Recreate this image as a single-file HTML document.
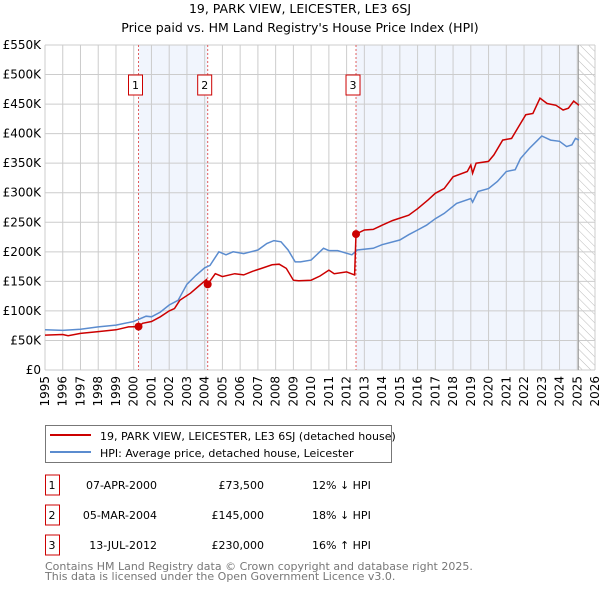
<!DOCTYPE html>
<html><head><meta charset="utf-8"><style>
body{margin:0;background:#fff;font-family:"DejaVu Sans","Liberation Sans",sans-serif;}
svg text{font-family:"DejaVu Sans","Liberation Sans",sans-serif;}
</style></head><body>
<svg id="chart" width="600" height="590" xmlns="http://www.w3.org/2000/svg">
<text x="300" y="13" text-anchor="middle" font-size="12.5">19, PARK VIEW, LEICESTER, LE3 6SJ</text>
<text x="300" y="32" text-anchor="middle" font-size="12.5">Price paid vs. HM Land Registry's House Price Index (HPI)</text>
<defs><pattern id="hatch" width="6" height="6" patternUnits="userSpaceOnUse" patternTransform="rotate(-45)"><line x1="0" y1="0" x2="0" y2="6" stroke="#bbb" stroke-width="1"/></pattern></defs>
<g id="plot"></g>
<g>
<rect x="45.5" y="425.5" width="346" height="37" fill="#fff" stroke="#777"/>
<line x1="50" y1="435" x2="91" y2="435" stroke="#cc0000" stroke-width="2"/>
<text x="100" y="440" font-size="11">19, PARK VIEW, LEICESTER, LE3 6SJ (detached house)</text>
<line x1="50" y1="452" x2="91" y2="452" stroke="#5b8ccf" stroke-width="2"/>
<text x="100" y="457" font-size="11">HPI: Average price, detached house, Leicester</text>
</g>
<g id="table"></g>
<text x="45" y="570" font-size="11" fill="#777">Contains HM Land Registry data © Crown copyright and database right 2025.</text>
<text x="45" y="580" font-size="11" fill="#777">This data is licensed under the Open Government Licence v3.0.</text>
</svg>
<script>
const hpiYears=[1995,1996,1997,1998,1999,2000,2000.7,2001,2001.5,2002,2002.5,2003,2003.5,2004,2004.3,2004.8,2005.2,2005.6,2006.2,2007,2007.5,2007.9,2008.3,2008.7,2009.1,2009.4,2010,2010.7,2011,2011.5,2012.3,2012.6,2013.5,2014,2015,2015.5,2016,2016.5,2017,2017.5,2018.2,2019,2019.1,2019.4,2020,2020.5,2021,2021.5,2021.8,2022.3,2022.7,2023,2023.5,2024,2024.4,2024.7,2024.9,2025.1];
const hpiValues=[68,67,69,73,76,82,91,90,98,110,118,145,160,173,177,200,195,200,197,203,214,219,217,203,183,183,186,206,202,202,195,203,206,212,220,229,237,245,256,265,282,290,284,302,307,319,336,339,358,375,387,396,389,387,378,381,392,389];
const priceYears=[1995,1996,1996.3,1997,1998,1999,1999.7,2000.27,2000.5,2001,2001.5,2002,2002.3,2002.6,2003.2,2003.7,2004.1,2004.17,2004.6,2005,2005.7,2006.2,2006.7,2007.2,2007.8,2008.2,2008.6,2009,2009.3,2010,2010.5,2011,2011.3,2012,2012.45,2012.53,2013,2013.5,2014,2014.6,2015.5,2016,2016.6,2017,2017.5,2018,2018.8,2019,2019.1,2019.3,2020,2020.3,2020.8,2021.3,2021.7,2022.1,2022.5,2022.9,2023.3,2023.8,2024.2,2024.5,2024.8,2025.1];
const priceValues=[59,60,58,62,65,68,73,73.5,79,82,90,100,104,118,130,143,153,145,163,158,163,161,167,172,178,179,172,152,151,152,159,169,163,166,161,230,237,238,245,253,262,273,288,299,307,327,336,347,333,350,353,364,389,392,412,432,434,460,451,448,440,443,455,448];
const saleYears=[2000.27,2004.17,2012.53];
const saleValues=[73.5,145,230];
const saleLabels=["1","2","3"];
const saleDates=["07-APR-2000","05-MAR-2004","13-JUL-2012"];
const salePrices=["£73,500","£145,000","£230,000"];
const saleDiffs=["12% ↓ HPI","18% ↓ HPI","16% ↑ HPI"];
const yTicks=[0,50,100,150,200,250,300,350,400,450,500,550];
const yTickLabels=["£0","£50K","£100K","£150K","£200K","£250K","£300K","£350K","£400K","£450K","£500K","£550K"];
const xTicks=[];for(let y=1995;y<=2026;y++)xTicks.push(y);
const dataEnd=2025.06;
const L=45,R=595,T=45,B=370,X0=1995,X1=2026,YMAX=550;
const sx=v=>L+(v-X0)/(X1-X0)*(R-L);
const sy=v=>B-v/YMAX*(B-T);
const NS="http://www.w3.org/2000/svg";
const plot=document.getElementById('plot');
function mk(tag,attrs,parent){const e=document.createElementNS(NS,tag);for(const k in attrs)e.setAttribute(k,attrs[k]);(parent||plot).appendChild(e);return e;}
for(let i=0;i<saleYears.length;i++){
 const x0=sx(saleYears[i]),x1=i+1<saleYears.length?sx(saleYears[i+1]):sx(dataEnd);
 if(i===1)continue;
 const r=mk('rect',{x:x0,y:T,width:x1-x0,height:B-T,fill:'#eef3fc',opacity:0.8});
 
 
}
const h=mk('rect',{x:sx(dataEnd),y:T,width:R-sx(dataEnd),height:B-T,fill:'url(#hatch)'});


xTicks.forEach(t=>{
 const g=mk('line',{x1:sx(t),x2:sx(t),y1:T,y2:B,stroke:'#ccc','stroke-width':1});
 
 
 const tx=mk('text',{x:0,y:0,'font-size':12,'text-anchor':'end',transform:`translate(${sx(t)+4},${B+6}) rotate(-90)`});
 tx.textContent=t;
 
 
});
yTicks.forEach((t,i)=>{
 const g=mk('line',{x1:L,x2:R,y1:sy(t),y2:sy(t),stroke:'#ccc','stroke-width':1});
 
 
 const tx=mk('text',{x:L-4,y:sy(t)+4,'font-size':12,'text-anchor':'end'});
 tx.textContent=yTickLabels[i];
 
 
});
const dl=mk('line',{x1:sx(dataEnd),x2:sx(dataEnd),y1:T,y2:B,stroke:'#999','stroke-width':1});


saleYears.forEach((y,i)=>{
 const l=mk('line',{x1:sx(y),x2:sx(y),y1:T,y2:B,stroke:'#e06060','stroke-width':1,'stroke-dasharray':'2,2'});
 
 
 const bx=mk('rect',{x:sx(y)-10,y:75,width:14,height:20,fill:'#fff',stroke:'#cc0000'});
 
 
 const t=mk('text',{x:sx(y)-3,y:89,'font-size':11,'text-anchor':'middle'});
 t.textContent=saleLabels[i];
 
 
});
const path=(xs,vs)=>xs.map((x,i)=>(i?'L':'M')+sx(x).toFixed(1)+','+sy(vs[i]).toFixed(1)).join('');
const hp=mk('path',{d:path(hpiYears,hpiValues),fill:'none',stroke:'#5b8ccf','stroke-width':1.5});


const pp=mk('path',{d:path(priceYears,priceValues),fill:'none',stroke:'#cc0000','stroke-width':1.5});


saleYears.forEach((y,i)=>{
 const c=mk('circle',{cx:sx(y),cy:sy(saleValues[i]),r:4,fill:'#cc0000'});
 
 
});
const tb=document.getElementById('table');
saleLabels.forEach((lab,i)=>{
 const cy=483+i*30;
 const bx=mk('rect',{x:45.5,y:cy-8,width:14,height:20,fill:'#fff',stroke:'#cc0000'},tb);
 
 
 const cells=[[52,lab,'middle'],[157,saleDates[i],'end'],[264,salePrices[i],'end'],[312,saleDiffs[i],'start']];
 cells.forEach(c=>{
  const t=mk('text',{x:c[0],y:cy+6,'font-size':11,'text-anchor':c[2]},tb);
  t.textContent=c[1];
  
  
 });
});
</script>
</body></html>
